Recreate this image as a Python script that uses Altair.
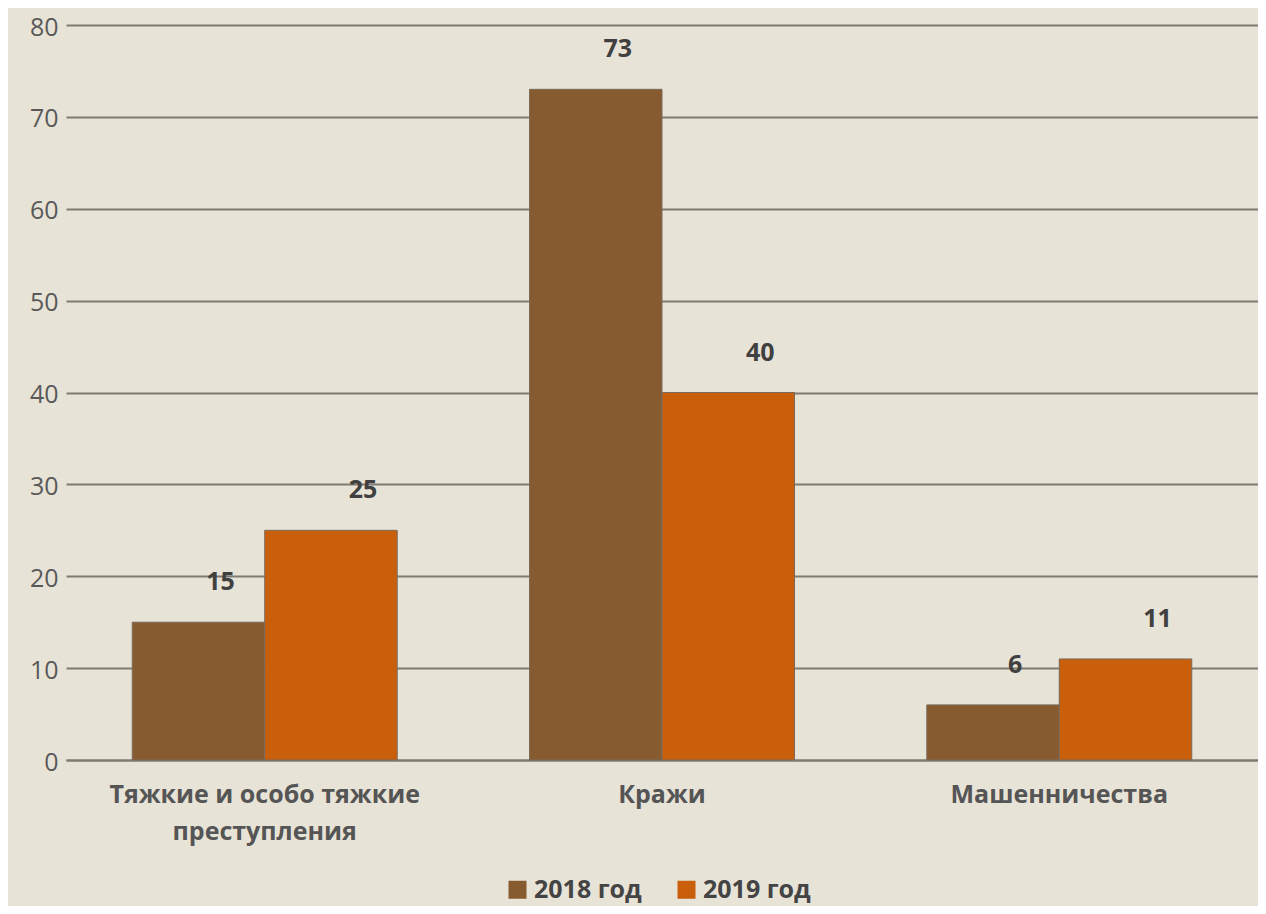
import altair as alt
import pandas as pd

categories = ["Тяжкие и особо тяжкие преступления", "Кражи", "Машенничества"]
years = ["2018 год", "2019 год"]
v2018 = [15, 73, 6]
v2019 = [25, 40, 11]
y_ticks = [0, 10, 20, 30, 40, 50, 60, 70, 80]
colors = ["#875B30", "#C95F0B"]

rows = []
for c, a, b in zip(categories, v2018, v2019):
    rows.append({"cat": c, "year": years[0], "val": a})
    rows.append({"cat": c, "year": years[1], "val": b})
df = pd.DataFrame(rows)

FONT = "Open Sans"

base = alt.Chart(df).encode(
    x=alt.X(
        "cat:N",
        sort=categories,
        scale=alt.Scale(paddingInner=0.333, paddingOuter=0.1667),
        axis=alt.Axis(
            title=None,
            labelAngle=0,
            ticks=False,
            domain=True,
            domainColor="#7F7A72",
            domainWidth=2,
            labelPadding=22,
            labelFont=FONT,
            labelFontSize=25,
            labelFontWeight="bold",
            labelColor="#555555",
            labelLineHeight=37,
            labelLimit=600,
            labelExpr="datum.value == 'Тяжкие и особо тяжкие преступления' ? ['Тяжкие и особо тяжкие', 'преступления'] : datum.value",
        ),
    ),
    xOffset=alt.XOffset("year:N", sort=years, scale=alt.Scale(paddingInner=0, paddingOuter=0)),
    y=alt.Y(
        "val:Q",
        scale=alt.Scale(domain=[0, 80], nice=False),
        axis=alt.Axis(
            title=None,
            values=y_ticks,
            grid=True,
            gridColor="#7F7A72",
            gridWidth=2,
            domain=False,
            ticks=False,
            labelPadding=8,
            labelOffset=2,
            labelFont=FONT,
            labelFontSize=25,
            labelColor="#595959",
        ),
    ),
)

bars = base.mark_bar(stroke="#7a6a5c", strokeWidth=1).encode(
    color=alt.Color(
        "year:N",
        sort=years,
        scale=alt.Scale(domain=years, range=colors),
        legend=alt.Legend(
            title=None,
            orient="none",
            direction="horizontal",
            legendX=439,
            legendY=852,
            symbolType="square",
            symbolSize=324,
            symbolStrokeWidth=0,
            labelFont=FONT,
            labelFontSize=25,
            labelFontWeight="bold",
            labelColor="#444444",
            labelOffset=4,
            columnPadding=32,
        ),
    )
)

text_kw = dict(baseline="middle", dy=-40, font=FONT, fontSize=25, fontWeight="bold", color="#404040")
t1 = base.mark_text(dx=22, **text_kw).encode(text="val:Q").transform_filter(alt.datum.year == years[0])
t2 = base.mark_text(dx=32, **text_kw).encode(text="val:Q").transform_filter(alt.datum.year == years[1])

chart = (
    alt.layer(bars, t1, t2)
    .properties(
        width=1192,
        height=735,
        autosize=alt.AutoSizeParams(type="none"),
        padding={"left": 58, "top": 17, "right": 0, "bottom": 146},
        background="#E8E3D7",
    )
    .configure_view(stroke=None)
)

chart.save("out.html", embed_options={"renderer": "svg", "actions": False})
